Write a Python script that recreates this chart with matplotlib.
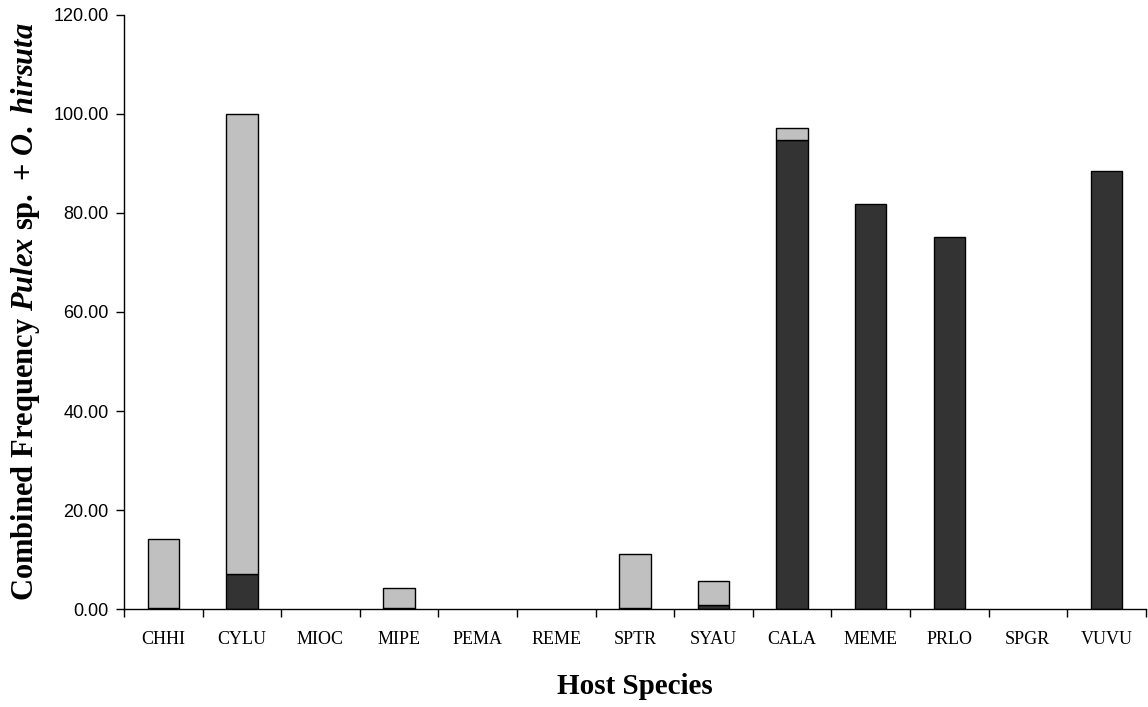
import numpy as np
import matplotlib
matplotlib.use("Agg")
import matplotlib.pyplot as plt

# Combined flea frequency by host species
hosts = ["CHHI", "CYLU", "MIOC", "MIPE", "PEMA", "REME", "SPTR",
         "SYAU", "CALA", "MEME", "PRLO", "SPGR", "VUVU"]
o_hirsuta = [0.3, 7.0, 0.0, 0.3, 0.0, 0.0, 0.3, 0.8, 94.8, 81.8, 75.2, 0.0, 88.4]
pulex = [13.9, 93.0, 0.0, 4.0, 0.0, 0.0, 10.9, 4.8, 2.4, 0.0, 0.0, 0.0, 0.0]
yticks = [0, 20, 40, 60, 80, 100, 120]

plt.rcParams["mathtext.fontset"] = "custom"
plt.rcParams["mathtext.rm"] = "Liberation Serif:bold"
plt.rcParams["mathtext.it"] = "Liberation Serif:italic:bold"

fig = plt.figure(figsize=(11.48, 7.07), dpi=100)
ax = fig.add_axes([0.108, 0.1386, 0.89, 0.8402])

x = np.arange(len(hosts))
dark = np.array(o_hirsuta)
light = np.array(pulex)
w = 0.4
# skip empty segments so no flat outline is left on the axis
m = dark > 0
ax.bar(x[m], dark[m], w, color="#333333", edgecolor="black", linewidth=1)
m = light > 0
ax.bar(x[m], light[m], w, bottom=dark[m], color="#c0c0c0",
       edgecolor="black", linewidth=1)

ax.set_xlim(-0.5, len(hosts) - 0.5)
ax.set_ylim(0, 120)
ax.set_yticks(yticks)
ax.set_yticklabels([f"{v:.2f}" for v in yticks],
                   fontfamily="Liberation Sans", fontsize=13)

# category labels centred, tick marks between categories
ax.set_xticks(x)
ax.set_xticklabels(hosts, fontfamily="Liberation Serif", fontsize=13)
ax.set_xticks(np.arange(len(hosts) + 1) - 0.5, minor=True)
ax.tick_params(axis="x", which="major", length=0, pad=16)
ax.tick_params(axis="x", which="minor", length=6, direction="out", width=1)
ax.tick_params(axis="y", length=6, direction="out", width=1, pad=5)

for s in ["top", "right"]:
    ax.spines[s].set_visible(False)
for s in ["left", "bottom"]:
    ax.spines[s].set_linewidth(1)
    ax.spines[s].set_color("black")

ax.set_xlabel("Host Species", fontfamily="Liberation Serif",
              fontweight="bold", fontsize=21, labelpad=18)
ax.set_ylabel(r"$\mathrm{Combined\ Frequency\ }\mathit{Pulex}"
              r"\mathrm{\ sp.\ {+}\ }\mathit{O.\ hirsuta}$",
              fontsize=22, labelpad=8)

fig.savefig("out.png", dpi=100)
